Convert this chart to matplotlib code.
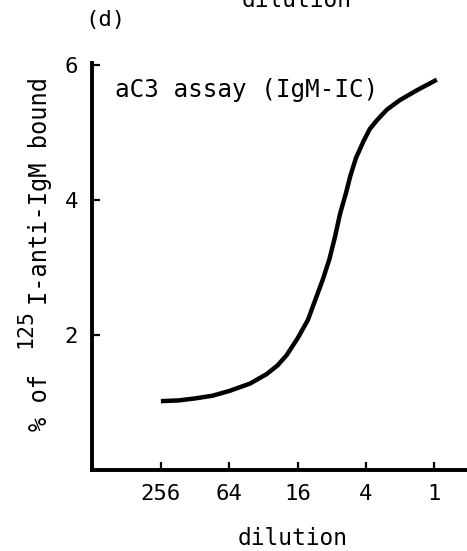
import matplotlib
matplotlib.use("Agg")
import matplotlib.pyplot as plt

plt.rcParams['font.family'] = ['DejaVu Sans Mono']

# curve (dilution, % bound)
dilution = [256, 180, 128, 90, 64, 42, 30, 24, 20, 16, 13, 11, 9.6, 8.4, 7.5,
            6.75, 6.0, 5.5, 4.9, 4.2, 3.7, 3.2, 2.6, 2.0, 1.4, 0.95]
bound = [1.02, 1.03, 1.06, 1.10, 1.17, 1.28, 1.42, 1.55, 1.70, 1.95, 2.22, 2.55,
         2.82, 3.12, 3.45, 3.80, 4.10, 4.35, 4.62, 4.87, 5.05, 5.18, 5.34, 5.48,
         5.63, 5.78]

xticks = [256, 64, 16, 4, 1]
xticklabels = ['256', '64', '16', '4', '1']
yticks = [2, 4, 6]

W, H = 467, 551
fig = plt.figure(figsize=(W / 100, H / 100), dpi=100)
ax = fig.add_axes([0.197, 0.147, 0.803, 0.739])

ax.plot(dilution, bound, color='black', lw=3.2, solid_capstyle='butt',
        solid_joinstyle='round')

ax.set_xscale('log', base=4)
ax.set_xlim(1036, 0.515)
ax.set_ylim(0, 6.03)
ax.set_xticks(xticks)
ax.set_xticklabels(xticklabels)
ax.minorticks_off()
ax.set_yticks(yticks)
ax.set_yticklabels([str(v) for v in yticks])

for s in ['top', 'right']:
    ax.spines[s].set_visible(False)
for s in ['left', 'bottom']:
    ax.spines[s].set_linewidth(2.8)

ax.tick_params(direction='in', length=6, width=1.6, labelsize=16, pad=10)

ax.text(0.061, 0.934, 'aC3 assay (IgM-IC)', transform=ax.transAxes,
        fontsize=17.5, va='center', ha='left')

ax.set_xlabel('dilution', fontsize=16.5)
ax.xaxis.set_label_coords(0.536, -0.14)
ax.xaxis.label.set_va('top')

# y label built from pieces so the 125 superscript stays large
ylab = dict(rotation=90, rotation_mode='anchor', ha='left', va='baseline')
fig.text(47 / W, 1 - 431 / H, '% of', fontsize=17, **ylab)
fig.text(31 / W, 1 - 348 / H, '125', fontsize=15.5, **ylab)
fig.text(47 / W, 1 - 305 / H, 'I-anti-IgM bound', fontsize=17, **ylab)

fig.text(0.182, 0.964, '(d)', fontsize=16, va='center', ha='left')
# cut-off label of the panel above
fig.text(0.636, 0.9875, 'dilution', fontsize=16.5, va='baseline', ha='center')

fig.savefig('out.png', dpi=100)
